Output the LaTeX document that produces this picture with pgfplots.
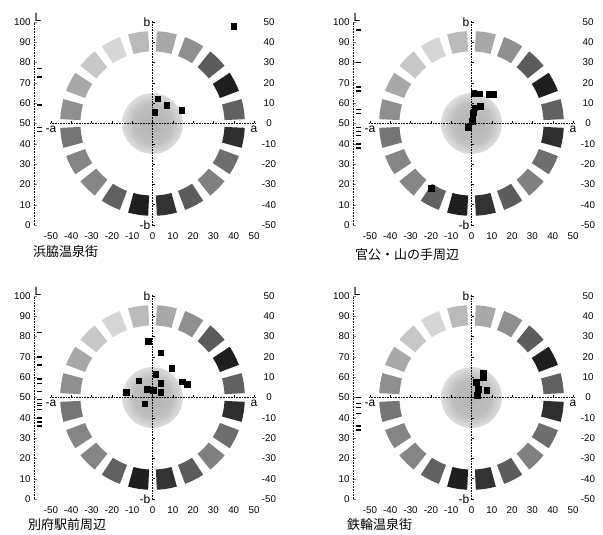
\documentclass[border=0pt]{standalone}
\usepackage{fontspec}
\setmainfont{Liberation Sans}
\newfontfamily\cjk{Noto Sans CJK JP}
\usepackage{pgfplots}
\usepackage{pgfplotstable}
\pgfplotsset{compat=1.18}

\pgfdeclareradialshading{disk}{\pgfpoint{0bp}{0bp}}{color(0bp)=(black!30); color(16bp)=(black!25); color(26bp)=(black!12); color(33bp)=(white); color(50bp)=(white)}

\pgfplotstableread{
a b L
40 48 77
2.5 12.3 73
7 9 59
14.3 6.6 48
1 5.7 46
}\dataA
\pgfplotstableread{
a b L
1 15 96
3.7 14.7 80
8.8 14.3 68
10.8 14.3 66
4.4 8.6 57
1.6 7.8 55
0.8 5.4 48
0.5 3.2 46
0.2 1.2 44
-1.7 -1.7 40
-20 -32 38
}\dataB
\pgfplotstableread{
a b L
-2 27.7 82
4.1 22 70
9.5 14.3 66
1.6 11.6 59
-6.8 8.3 57
4.1 7.1 53
14.6 7.8 49
17 6.6 47
-13 2.5 46
-2.6 4 44
0.2 3.7 40
4 2.5 38
-3.9 -3 36
}\dataC
\pgfplotstableread{
a b L
5.8 12 50
5.8 9.8 47
2.2 7.6 45
3.3 4 42
7.5 3.5 36
2.8 1 34
}\dataD

\newcommand{\tickfont}{\fontsize{9.8}{12}\selectfont}
\newcommand{\abfont}{\fontsize{12}{14}\selectfont}

\newcommand{\bg}[2]{%
\begin{scope}[shift={(#1pt,#2pt)}, x=2.03pt, y=2.03pt]
  \shade[shading=disk] (0,0) circle (15);
  \foreach \ang/\g in {9/62, 27/88, 45/64, 63/44, 81/34, 99/27, 117/16, 135/22, 153/34, 171/44, 189/54, 207/48, 225/48, 243/62, 261/88, 279/80, 297/64, 315/50, 333/57, 351/82}{
    \fill[black!\g] ({\ang-6.3}:35.5) arc[start angle=\ang-6.3, end angle=\ang+6.3, radius=35.5] -- ({\ang+6.3}:45.5) arc[start angle=\ang+6.3, end angle=\ang-6.3, radius=45.5] -- cycle;
  }
  \draw[densely dotted, line width=0.6pt] (-50.5,0) -- (50.5,0) (0,-50.5) -- (0,50.5);
  \foreach \t in {-50,-40,...,50}{
    \draw[line width=0.4pt] (\t,0) -- (\t,1.4);
    \draw[line width=0.4pt] (0,\t) -- (1.4,\t);
  }
  \node[anchor=north, inner sep=1pt, font=\abfont] at (-50,-0.5) {-a};
  \node[anchor=north, inner sep=1pt, font=\abfont] at (50,-0.5) {a};
  \node[anchor=east, inner sep=1pt, font=\abfont] at (-0.5,50) {b};
  \node[anchor=east, inner sep=1pt, font=\abfont] at (-0.5,-50) {-b};
\end{scope}}

\pgfplotsset{
  Laxis/.style={scale only axis, width=10pt, height=203pt, xmin=0, xmax=1, ymin=0, ymax=100,
    axis x line=none, axis y line=left, y axis line style={-, densely dotted, line width=0.6pt},
    ytick={0,10,...,100}, ytick align=inside, major tick length=2.5pt,
    yticklabel style={font=\tickfont}, clip=false,
    /pgf/number format/assume math mode=true},
  Maxis/.style={scale only axis, width=203pt, height=203pt, xmin=-50, xmax=50, ymin=-50, ymax=50,
    axis line style={draw=none}, tick style={draw=none}, major tick length=0pt,
    xtick={-50,-40,...,50}, ytick={-50,-40,...,50}, yticklabel pos=right,
    xticklabel style={anchor=center, yshift=-11.5pt, font=\tickfont},
    yticklabel style={anchor=center, xshift=15pt, font=\tickfont},
    clip=false, /pgf/number format/assume math mode=true},
  Lmarks/.style={only marks, mark=-, mark size=2.6pt, mark options={line width=1.5pt}, black},
  Pmarks/.style={only marks, mark=square*, mark size=2.8pt, black},
}

\begin{document}
\begin{tikzpicture}
\useasboundingbox (0,0) rectangle (603pt,535pt);

% Panel 1
\bg{152.5}{411.5}
\begin{axis}[Laxis, at={(34pt,310pt)}, anchor=south west]
  \addplot[Lmarks] table[x expr=0.55, y=L] {\dataA};
  \node[anchor=south west, inner sep=0.5pt, font=\abfont] at (axis cs:0,100) {L};
\end{axis}
\begin{axis}[Maxis, at={(51pt,310pt)}, anchor=south west]
  \addplot[Pmarks] table[x=a, y=b] {\dataA};
\end{axis}
\node[anchor=west, inner sep=0pt, font=\cjk\fontsize{13}{15}\selectfont] at (33pt,283.5pt) {浜脇温泉街};

% Panel 2
\bg{471.5}{411.5}
\begin{axis}[Laxis, at={(353pt,310pt)}, anchor=south west]
  \addplot[Lmarks] table[x expr=0.55, y=L] {\dataB};
  \node[anchor=south west, inner sep=0.5pt, font=\abfont] at (axis cs:0,100) {L};
\end{axis}
\begin{axis}[Maxis, at={(370pt,310pt)}, anchor=south west]
  \addplot[Pmarks] table[x=a, y=b] {\dataB};
\end{axis}
\node[anchor=west, inner sep=0pt, font=\cjk\fontsize{13}{15}\selectfont] at (355pt,280pt) {官公・山の手周辺};

% Panel 3
\bg{152.5}{137.5}
\begin{axis}[Laxis, at={(34pt,36pt)}, anchor=south west]
  \addplot[Lmarks] table[x expr=0.55, y=L] {\dataC};
  \node[anchor=south west, inner sep=0.5pt, font=\abfont] at (axis cs:0,100) {L};
\end{axis}
\begin{axis}[Maxis, at={(51pt,36pt)}, anchor=south west]
  \addplot[Pmarks] table[x=a, y=b] {\dataC};
\end{axis}
\node[anchor=west, inner sep=0pt, font=\cjk\fontsize{13}{15}\selectfont] at (28pt,10pt) {別府駅前周辺};

% Panel 4
\bg{471.5}{137.5}
\begin{axis}[Laxis, at={(353pt,36pt)}, anchor=south west]
  \addplot[Lmarks] table[x expr=0.55, y=L] {\dataD};
  \node[anchor=south west, inner sep=0.5pt, font=\abfont] at (axis cs:0,100) {L};
\end{axis}
\begin{axis}[Maxis, at={(370pt,36pt)}, anchor=south west]
  \addplot[Pmarks] table[x=a, y=b] {\dataD};
\end{axis}
\node[anchor=west, inner sep=0pt, font=\cjk\fontsize{13}{15}\selectfont] at (347pt,10pt) {鉄輪温泉街};
\end{tikzpicture}
\end{document}
